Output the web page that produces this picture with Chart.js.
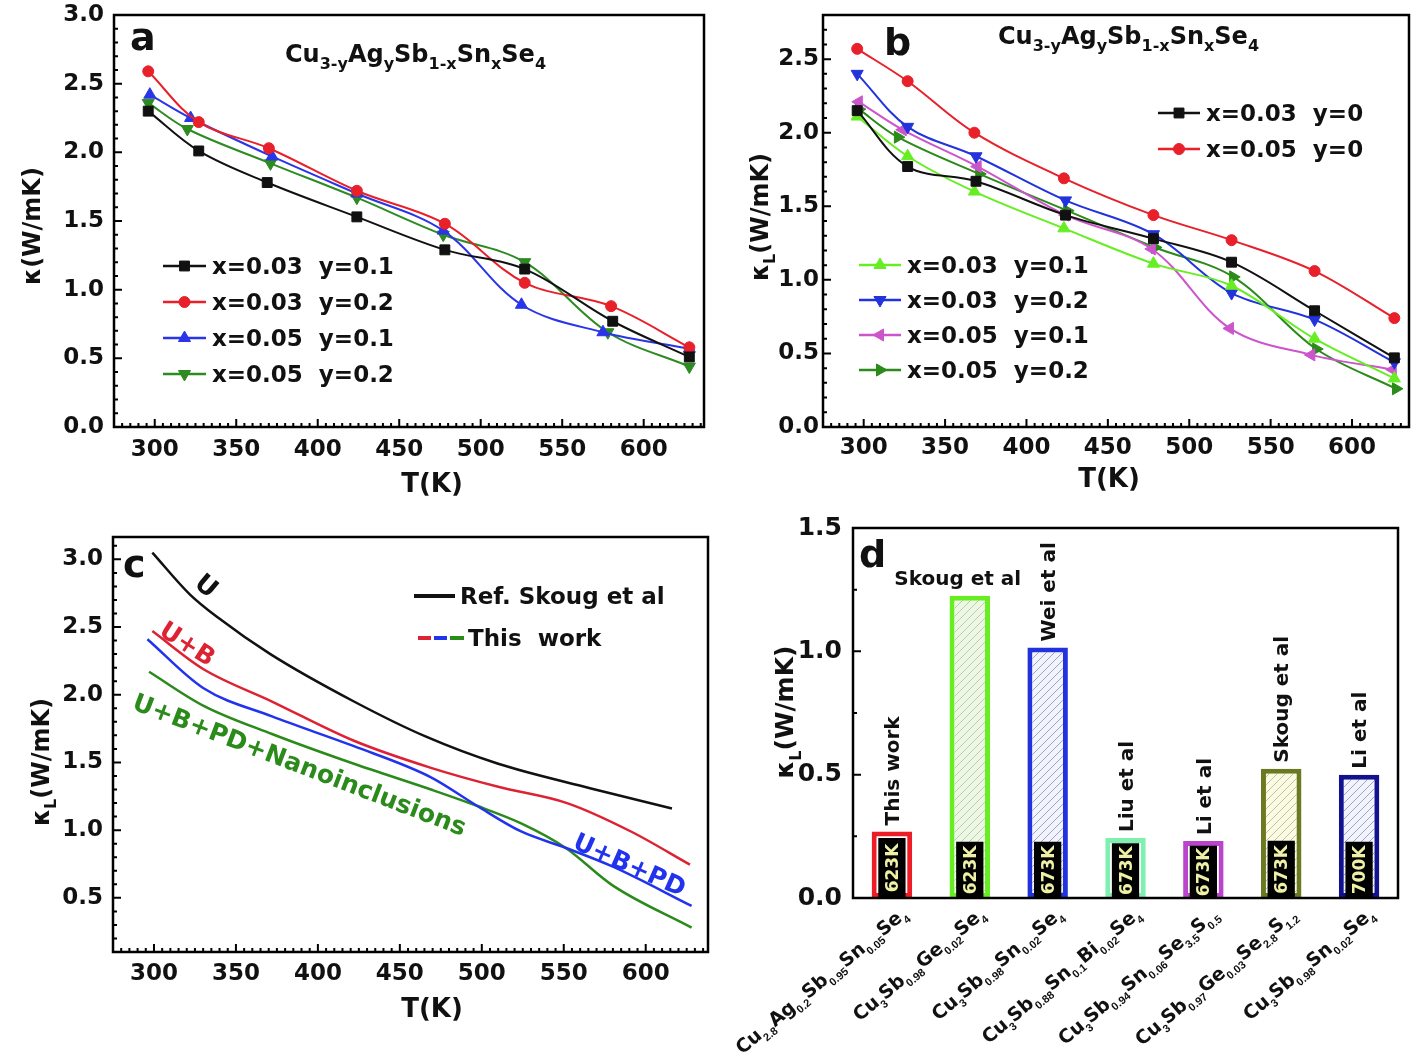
<!DOCTYPE html>
<html>
<head>
<meta charset="utf-8">
<title>Cu3SbSe4 thermal conductivity</title>
<script src="https://cdn.jsdelivr.net/npm/chart.js@4.4.1/dist/chart.umd.min.js"></script>
<style>
  html, body { margin: 0; padding: 0; background: #fff; }
  #page { position: relative; width: 1417px; height: 1061px; overflow: hidden; }
  .panel { position: absolute; }
</style>
</head>
<body>
<div id="page">
  <div class="panel" style="left:0px;top:0px"><canvas id="chartA" width="712" height="505"></canvas></div>
  <div class="panel" style="left:712px;top:0px"><canvas id="chartB" width="705" height="505"></canvas></div>
  <div class="panel" style="left:0px;top:515px"><canvas id="chartC" width="712" height="546"></canvas></div>
  <div class="panel" style="left:730px;top:505px"><canvas id="chartD" width="687" height="556"></canvas></div>
</div>
<script>
// panel a - total kappa, Cu3-yAgySb1-xSnxSe4
const aTemp1 = [296, 327, 369, 424, 478, 527, 581, 628];
const aKappa1 = [2.30, 2.01, 1.78, 1.53, 1.29, 1.15, 0.77, 0.51];
const aTemp2 = [296, 327, 370, 424, 478, 527, 580, 628];
const aKappa2 = [2.59, 2.22, 2.03, 1.72, 1.48, 1.05, 0.88, 0.58];
const aTemp3 = [297, 322, 372, 424, 477, 525, 575, 628];
const aKappa3 = [2.42, 2.25, 1.97, 1.70, 1.43, 0.89, 0.69, 0.57];
const aTemp4 = [296, 320, 371, 424, 477, 527, 578, 628];
const aKappa4 = [2.36, 2.17, 1.92, 1.67, 1.40, 1.20, 0.69, 0.44];
const aLabels = ['x=0.03  y=0.1', 'x=0.03  y=0.2', 'x=0.05  y=0.1', 'x=0.05  y=0.2'];

// panel b - lattice kappa
const bTemp1 = [296, 327, 369, 424, 478, 526, 577, 626];
const bKappa1 = [2.15, 1.77, 1.67, 1.44, 1.28, 1.12, 0.79, 0.47];
const bTemp2 = [296, 327, 368, 423, 478, 526, 577, 626];
const bKappa2 = [2.57, 2.35, 2.00, 1.69, 1.44, 1.27, 1.06, 0.74];
const bTemp3 = [296, 327, 368, 423, 478, 526, 577, 626];
const bKappa3 = [2.11, 1.84, 1.60, 1.35, 1.11, 0.96, 0.60, 0.33];
const bTemp4 = [296, 327, 369, 424, 478, 526, 577, 626];
const bKappa4 = [2.40, 2.04, 1.84, 1.54, 1.31, 0.91, 0.73, 0.44];
const bTemp5 = [297, 324, 370, 424, 477, 525, 575, 625];
const bKappa5 = [2.21, 2.02, 1.77, 1.44, 1.21, 0.67, 0.49, 0.39];
const bTemp6 = [297, 321, 371, 425, 479, 527, 578, 627];
const bKappa6 = [2.16, 1.97, 1.72, 1.47, 1.22, 1.02, 0.53, 0.26];
const bLabels = ['x=0.03  y=0', 'x=0.05  y=0', 'x=0.03  y=0.1', 'x=0.03  y=0.2', 'x=0.05  y=0.1', 'x=0.05  y=0.2'];

// panel c - model curves
const cTempRef = [299, 322, 339, 371, 422, 466, 510, 566, 616];
const cKappaRef = [3.05, 2.74, 2.57, 2.30, 1.95, 1.69, 1.49, 1.31, 1.16];
const cTempB = [299, 330, 372, 422, 469, 510, 552, 591, 627];
const cKappaB = [2.47, 2.19, 1.95, 1.66, 1.46, 1.32, 1.20, 0.99, 0.745];
const cTempPD = [296, 330, 372, 422, 469, 497, 524, 551, 580, 628];
const cKappaPD = [2.41, 2.05, 1.84, 1.62, 1.39, 1.18, 0.99, 0.87, 0.73, 0.44];
const cTempNano = [297, 330, 372, 422, 469, 497, 524, 551, 580, 628];
const cKappaNano = [2.17, 1.92, 1.71, 1.49, 1.30, 1.18, 1.05, 0.87, 0.59, 0.28];

// panel d - comparison
const dSamples = [
  'Cu_{2.8}Ag_{0.2}Sb_{0.95}Sn_{0.05}Se_{4}',
  'Cu_{3}Sb_{0.98}Ge_{0.02}Se_{4}',
  'Cu_{3}Sb_{0.98}Sn_{0.02}Se_{4}',
  'Cu_{3}Sb_{0.88}Sn_{0.1}Bi_{0.02}Se_{4}',
  'Cu_{3}Sb_{0.94}Sn_{0.06}Se_{3.5}S_{0.5}',
  'Cu_{3}Sb_{0.97}Ge_{0.03}Se_{2.8}S_{1.2}',
  'Cu_{3}Sb_{0.98}Sn_{0.02}Se_{4}'
];
const dKappa = [0.27, 1.225, 1.016, 0.243, 0.231, 0.524, 0.50];
const dTagHeight = [0.243, 0.228, 0.228, 0.222, 0.212, 0.232, 0.228];
const dTemps = ['623K', '623K', '673K', '673K', '673K', '673K', '700K'];
const dRefs = ['This work', 'Skoug et al', 'Wei et al', 'Liu et al', 'Li et al', 'Skoug et al', 'Li et al'];

const tTicks = [300, 350, 400, 450, 500, 550, 600];
const aTicks = [0, 0.5, 1.0, 1.5, 2.0, 2.5, 3.0];
const bTicks = [0, 0.5, 1.0, 1.5, 2.0, 2.5];
const cTicks = [0.5, 1.0, 1.5, 2.0, 2.5, 3.0];
const dTicks = [0, 0.5, 1.0, 1.5];

const FAMILY = '"DejaVu Sans", "Liberation Sans", sans-serif';
const SUBFAMILY = '"Liberation Sans", "DejaVu Sans", sans-serif';

// ---- text helpers (simple subscripts: Cu_{3}) ----
function parseRich(s) {
  const out = [];
  const re = /_\{([^}]*)\}|([^_]+)/g;
  let m;
  while ((m = re.exec(s))) out.push(m[1] !== undefined ? {t: m[1], sub: true} : {t: m[2], sub: false});
  return out;
}

function drawRich(ctx, s, x, y, o) {
  o = o || {};
  const size = o.size || 23, sub = o.sub || Math.round(size * 0.65);
  const mainFont = 'bold ' + size + 'px ' + FAMILY;
  const subFont = 'bold ' + sub + 'px ' + (o.subFamily || FAMILY);
  const segs = parseRich(s);
  let w = 0;
  segs.forEach(g => { ctx.font = g.sub ? subFont : mainFont; g.w = ctx.measureText(g.t).width; w += g.w; });
  ctx.save();
  ctx.translate(x, y);
  if (o.angle) ctx.rotate(o.angle * Math.PI / 180);
  ctx.fillStyle = o.color || '#111';
  ctx.textBaseline = 'alphabetic';
  ctx.textAlign = 'left';
  let cx = o.align === 'center' ? -w / 2 : o.align === 'right' ? -w : 0;
  const dy = o.middle ? size * 0.36 : 0;
  segs.forEach(g => {
    ctx.font = g.sub ? subFont : mainFont;
    ctx.fillText(g.t, cx, dy + (g.sub ? size * 0.3 : 0));
    cx += g.w;
  });
  ctx.restore();
  return w;
}

function innerTicks(ctx, scale, t, a, horiz) {
  const n0 = Math.ceil(scale.min / t.minor - 1e-6), n1 = Math.floor(scale.max / t.minor + 1e-6);
  ctx.strokeStyle = '#000';
  ctx.lineWidth = 2;
  ctx.beginPath();
  for (let n = n0; n <= n1; n++) {
    const v = n * t.minor, r = v / t.major;
    const len = Math.abs(r - Math.round(r)) < 1e-6 ? 8 : 4;
    const p = scale.getPixelForValue(v);
    if (horiz) { ctx.moveTo(p, a.bottom); ctx.lineTo(p, a.bottom - len); }
    else { ctx.moveTo(a.left, p); ctx.lineTo(a.left + len, p); }
  }
  ctx.stroke();
}

function drawLegend(chart, ctx, g) {
  g.items.forEach((di, k) => {
    const ds = chart.data.datasets[di];
    const y = g.y + k * g.dy;
    ctx.save();
    ctx.strokeStyle = ds.borderColor;
    ctx.fillStyle = ds.backgroundColor;
    ctx.lineWidth = 2.5;
    ctx.beginPath(); ctx.moveTo(g.x, y); ctx.lineTo(g.x + g.len, y); ctx.stroke();
    ctx.lineWidth = 1;
    Chart.helpers.drawPoint(ctx, {pointStyle: ds.pointStyle, rotation: ds.pointRotation || 0,
      radius: ds.pointRadius, borderWidth: 1}, g.x + g.len / 2, y);
    ctx.restore();
    drawRich(ctx, ds.label, g.x + g.len + 6, y, {size: 23, middle: true});
  });
}

// one plugin per chart: frame, inward ticks, texts, legends
function decor(cfg) {
  return {
    id: 'decor',
    afterDraw(chart) {
      const ctx = chart.ctx, a = chart.chartArea;
      ctx.save();
      if (cfg.xTicks) innerTicks(ctx, chart.scales.x, cfg.xTicks, a, true);
      if (cfg.yTicks) innerTicks(ctx, chart.scales.y, cfg.yTicks, a, false);
      ctx.lineWidth = 2.5;
      ctx.strokeStyle = '#000';
      ctx.strokeRect(a.left, a.top, a.right - a.left, a.bottom - a.top);
      ctx.restore();
      (cfg.legends || []).forEach(g => drawLegend(chart, ctx, g));
      (cfg.texts || []).forEach(t => drawRich(ctx, t.s, t.x, t.y, t));
      if (cfg.extra) cfg.extra(chart, ctx);
    }
  };
}

function linScale(min, max, ticks, o) {
  return {
    type: 'linear', min: min, max: max,
    grid: {display: false, drawTicks: false},
    border: {display: false},
    afterBuildTicks: s => { s.ticks = ticks.map(v => ({value: v})); },
    afterFit: s => {
      if (o.width) { s.width = o.width; s.paddingTop = 0; s.paddingBottom = 0; }
      if (o.height) { s.height = o.height; s.paddingLeft = 0; s.paddingRight = 0; }
    },
    ticks: {
      color: '#111', padding: o.pad,
      font: {family: FAMILY, size: o.size || 23, weight: 'bold'},
      callback: v => o.fixed ? Number(v).toFixed(1) : String(v)
    }
  };
}

function series(ts, ks) { return ts.map((t, i) => ({x: t, y: ks[i]})); }

function lineSet(label, ts, ks, color, style, rot, r) {
  return {
    label: label, data: series(ts, ks), showLine: true,
    borderColor: color, backgroundColor: color, borderWidth: 2, tension: 0.35,
    pointStyle: style, pointRotation: rot, pointRadius: r, pointHoverRadius: r, pointBorderWidth: 1
  };
}

function curveSet(ts, ks, color) {
  return {data: series(ts, ks), showLine: true, borderColor: color, backgroundColor: color,
    borderWidth: 2.5, cubicInterpolationMode: 'monotone', pointRadius: 0, pointHoverRadius: 0};
}

function lineOptions(pad, xs, ys) {
  return {
    responsive: false, animation: false,
    layout: {padding: {top: pad.top, right: pad.right, left: 0, bottom: 0}},
    plugins: {legend: {display: false}, tooltip: {enabled: false}},
    scales: {x: xs, y: ys}
  };
}

const TICKS_T = {major: 50, minor: 5};

// ---------- panel a ----------
new Chart(document.getElementById('chartA'), {
  type: 'scatter',
  data: {datasets: [
    lineSet(aLabels[0], aTemp1, aKappa1, '#111111', 'rect', 0, 7),
    lineSet(aLabels[1], aTemp2, aKappa2, '#e8202a', 'circle', 0, 5.5),
    lineSet(aLabels[2], aTemp3, aKappa3, '#2a35e8', 'triangle', 0, 7),
    lineSet(aLabels[3], aTemp4, aKappa4, '#2e8b22', 'triangle', 180, 7)
  ]},
  options: lineOptions({top: 15, right: 5},
    linScale(275, 637, tTicks, {height: 78, pad: 9}),
    linScale(0, 3.0, aTicks, {width: 114, pad: 10, fixed: true})),
  plugins: [decor({
    xTicks: TICKS_T, yTicks: {major: 0.5, minor: 0.1},
    legends: [{x: 163, y: 266, dy: 36, len: 43, items: [0, 1, 2, 3]}],
    texts: [
      {s: 'a', x: 130, y: 50, size: 38},
      {s: 'Cu_{3-y}Ag_{y}Sb_{1-x}Sn_{x}Se_{4}', x: 285, y: 62, size: 24, sub: 16},
      {s: 'κ(W/mK)', x: 31, y: 226, angle: -90, align: 'center', middle: true, size: 24},
      {s: 'T(K)', x: 432, y: 483, align: 'center', middle: true, size: 26}
    ]
  })]
});

// ---------- panel b ----------
new Chart(document.getElementById('chartB'), {
  type: 'scatter',
  data: {datasets: [
    lineSet(bLabels[0], bTemp1, bKappa1, '#111111', 'rect', 0, 7),
    lineSet(bLabels[1], bTemp2, bKappa2, '#e8202a', 'circle', 0, 5.5),
    lineSet(bLabels[2], bTemp3, bKappa3, '#66ee22', 'triangle', 0, 7),
    lineSet(bLabels[3], bTemp4, bKappa4, '#2233dd', 'triangle', 180, 7),
    lineSet(bLabels[4], bTemp5, bKappa5, '#cc55cc', 'triangle', -90, 7),
    lineSet(bLabels[5], bTemp6, bKappa6, '#2a8a1a', 'triangle', 90, 7)
  ]},
  options: lineOptions({top: 15, right: 8},
    linScale(275, 635, tTicks, {height: 78, pad: 7}),
    linScale(0, 2.8, bTicks, {width: 111, pad: 4, fixed: true})),
  plugins: [decor({
    xTicks: TICKS_T, yTicks: {major: 0.5, minor: 0.1},
    legends: [
      {x: 446, y: 113, dy: 36, len: 42, items: [0, 1]},
      {x: 147, y: 265, dy: 35, len: 42, items: [2, 3, 4, 5]}
    ],
    texts: [
      {s: 'b', x: 172, y: 55, size: 38},
      {s: 'Cu_{3-y}Ag_{y}Sb_{1-x}Sn_{x}Se_{4}', x: 286, y: 44, size: 24, sub: 16},
      {s: 'κ_{L}(W/mK)', x: 47, y: 217, angle: -90, align: 'center', middle: true, size: 24, sub: 16},
      {s: 'T(K)', x: 397, y: 478, align: 'center', middle: true, size: 26}
    ]
  })]
});

// ---------- panel c ----------
new Chart(document.getElementById('chartC'), {
  type: 'scatter',
  data: {datasets: [
    curveSet(cTempRef, cKappaRef, '#111111'),
    curveSet(cTempB, cKappaB, '#dd2233'),
    curveSet(cTempPD, cKappaPD, '#2233ee'),
    curveSet(cTempNano, cKappaNano, '#2a8a1a')
  ]},
  options: lineOptions({top: 22, right: 4},
    linScale(275, 638, tTicks, {height: 109, pad: 8}),
    linScale(0.1, 3.165, cTicks, {width: 113, pad: 10, fixed: true})),
  plugins: [decor({
    xTicks: TICKS_T, yTicks: {major: 0.5, minor: 0.1},
    texts: [
      {s: 'c', x: 123, y: 62, size: 38},
      {s: 'κ_{L}(W/mK)', x: 40, y: 247, angle: -90, align: 'center', middle: true, size: 24, sub: 16},
      {s: 'T(K)', x: 432, y: 493, align: 'center', middle: true, size: 26},
      {s: 'U', x: 207, y: 70, angle: 40, align: 'center', middle: true, size: 26},
      {s: 'U+B', x: 188, y: 128, angle: 33, align: 'center', middle: true, size: 25, color: '#dd2233'},
      {s: 'U+B+PD+Nanoinclusions', x: 300, y: 249, angle: 21, align: 'center', middle: true, size: 25, color: '#2a8a1a'},
      {s: 'U+B+PD', x: 630, y: 349, angle: 24, align: 'center', middle: true, size: 25, color: '#2233ee'},
      {s: 'Ref. Skoug et al', x: 460, y: 81, middle: true, size: 23},
      {s: 'This  work', x: 468, y: 123, middle: true, size: 23}
    ],
    extra: (chart, ctx) => {
      ctx.save();
      ctx.lineWidth = 4;
      ctx.strokeStyle = '#111';
      ctx.beginPath(); ctx.moveTo(414, 81); ctx.lineTo(455, 81); ctx.stroke();
      [['#dd2233', 418, 431], ['#2233ee', 434, 447], ['#2a8a1a', 450, 464]].forEach(p => {
        ctx.strokeStyle = p[0];
        ctx.beginPath(); ctx.moveTo(p[1], 123); ctx.lineTo(p[2], 123); ctx.stroke();
      });
      ctx.restore();
    }
  })]
});

// ---------- panel d ----------
function hatch(bg, line) {
  const c = document.createElement('canvas');
  c.width = 8; c.height = 8;
  const g = c.getContext('2d');
  g.fillStyle = bg; g.fillRect(0, 0, 8, 8);
  if (line) {
    g.strokeStyle = line; g.lineWidth = 1;
    g.beginPath();
    g.moveTo(0, 8); g.lineTo(8, 0);
    g.moveTo(-1, 1); g.lineTo(1, -1);
    g.moveTo(7, 9); g.lineTo(9, 7);
    g.stroke();
  }
  return g.createPattern(c, 'repeat');
}

const dBorder = ['#ee1c24', '#66ee22', '#2233dd', '#7ff0b0', '#bb44cc', '#6b7a22', '#121290'];
const dFill = [
  hatch('#ffffff'), hatch('#eef7e6', '#b5d3a3'), hatch('#f3f4fb', '#9aa3cc'), hatch('#ffffff'),
  hatch('#ffffff'), hatch('#fbfbe3', '#c2c2a2'), hatch('#f3f4fb', '#9aa3cc')
];

new Chart(document.getElementById('chartD'), {
  type: 'bar',
  data: {
    labels: dSamples,
    datasets: [
      {data: dKappa, backgroundColor: dFill, borderColor: dBorder, borderWidth: 5, borderSkipped: false,
        barPercentage: 0.52, categoryPercentage: 1, grouped: false, order: 1},
      {data: dTagHeight, backgroundColor: '#000', borderWidth: 0,
        barPercentage: 0.35, categoryPercentage: 1, grouped: false, order: 0}
    ]
  },
  options: {
    responsive: false, animation: false,
    layout: {padding: {top: 23, right: 19, left: 0, bottom: 0}},
    plugins: {legend: {display: false}, tooltip: {enabled: false}},
    scales: {
      x: {
        type: 'category', offset: true,
        grid: {display: false, drawTicks: false}, border: {display: false},
        ticks: {display: false},
        afterFit: s => { s.height = 163; s.paddingLeft = 0; s.paddingRight = 0; }
      },
      y: linScale(0, 1.5, dTicks, {width: 123, pad: 11, fixed: true, size: 25})
    }
  },
  plugins: [decor({
    yTicks: {major: 0.5, minor: 0.25},
    texts: [
      {s: 'd', x: 129, y: 62, size: 38},
      {s: 'κ_{L}(W/mK)', x: 54, y: 207, angle: -90, align: 'center', middle: true, size: 25, sub: 16}
    ],
    extra: (chart, ctx) => {
      const a = chart.chartArea;
      const outer = chart.getDatasetMeta(0).data, inner = chart.getDatasetMeta(1).data;
      outer.forEach((b, i) => {
        ctx.font = 'bold 20px ' + FAMILY;
        const w = ctx.measureText(dRefs[i]).width;
        if (b.y - 6 - w > a.top) {
          drawRich(ctx, dRefs[i], b.x, b.y - 6, {angle: -90, middle: true, size: 20});
        } else {
          drawRich(ctx, dRefs[i], b.x - 12, b.y - 11, {align: 'center', size: 20});
        }
        const t = inner[i];
        drawRich(ctx, dTemps[i], t.x, (t.y + t.base) / 2, {angle: -90, align: 'center', middle: true,
          size: 17, color: '#eef0a6'});
        drawRich(ctx, dSamples[i], b.x + 16, a.bottom + 18, {angle: -40, align: 'right', size: 19, sub: 11,
          subFamily: SUBFAMILY});
      });
    }
  })]
});
</script>
</body>
</html>
